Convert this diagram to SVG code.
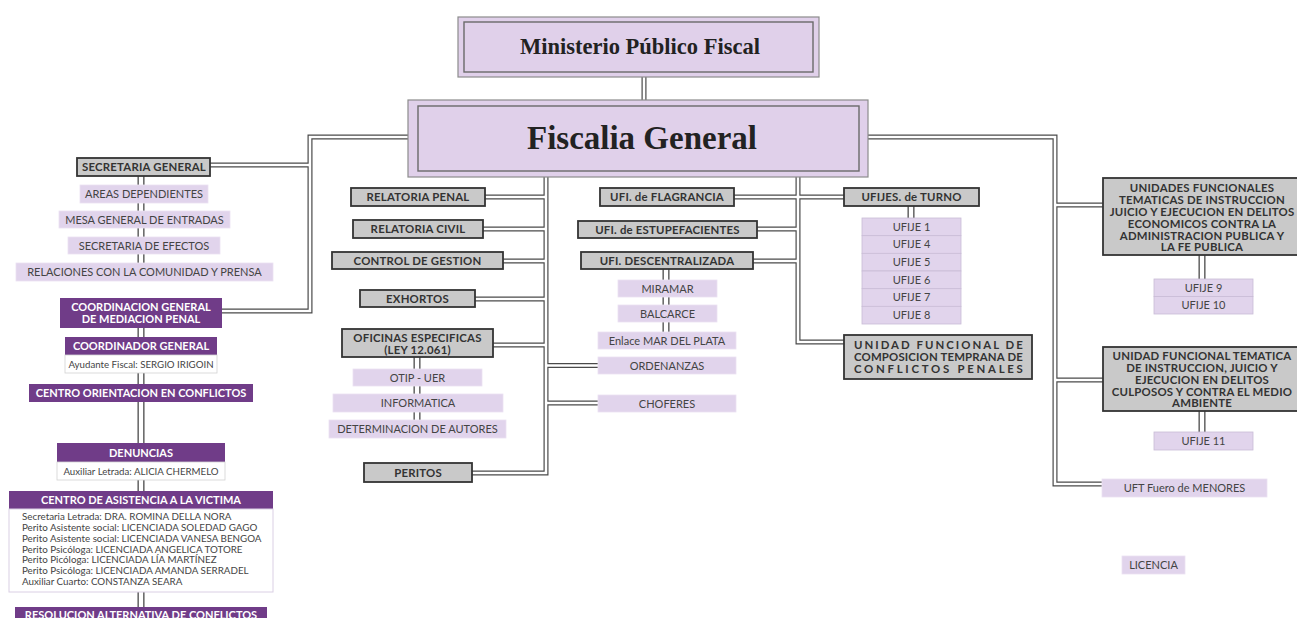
<svg xmlns="http://www.w3.org/2000/svg" xmlns:xlink="http://www.w3.org/1999/xlink" width="1297" height="618" viewBox="0 0 1297 618">
<style>
.cd{fill:none;stroke:#4a4a4a;stroke-width:5}
.cw{fill:none;stroke:#fff;stroke-width:2.6}
.sd{fill:none;stroke:#4a4a4a;stroke-width:7}
.sw{fill:none;stroke:#fff;stroke-width:4.4}
.gb{fill:#c9c9c9;stroke:#333;stroke-width:1.8}
.lv{fill:#e1d4ec;stroke:#ebe2f2;stroke-width:0.8}
.lc{fill:#e1d4ec;stroke:#c9bcd6;stroke-width:0.8}
.pu{fill:#703c88}
.wb{fill:#fff;stroke:#d2d2d2;stroke-width:0.8}
.wp{fill:#fff;stroke:#dacfe4;stroke-width:1}
.ob{fill:#e0d0ea;stroke:#8c8c8c;stroke-width:1.2}
.ib{fill:none;stroke:#6a6a6a;stroke-width:1.4}
text{font-family:Lato,"Open Sans","Liberation Sans",sans-serif;text-anchor:middle}
.tb{font-weight:bold;fill:#333;font-size:11.4px;letter-spacing:0.2px}
.tl{fill:#444;font-size:11px}
.tw{fill:#fff;font-weight:bold;font-size:11px}
.ts{fill:#444;font-size:9.7px}
.td{fill:#444;font-size:9.8px;text-anchor:start}
.tr{font-family:"Liberation Serif","Times New Roman",serif;font-weight:bold;fill:#222}
</style>
<defs>
<path id="p1" d="M644,77 V100"/>
<path id="p2" d="M408,137 H310 V311 H222"/>
<path id="p3" d="M210,165 H310"/>
<path id="p4" d="M472,473 H546 V177"/>
<path id="p5" d="M485,197 H546"/>
<path id="p6" d="M483,229 H546"/>
<path id="p7" d="M503,261 H546"/>
<path id="p8" d="M475,299 H546"/>
<path id="p9" d="M493,345 H546"/>
<path id="p10" d="M546,365.5 H598"/>
<path id="p11" d="M546,403 H598"/>
<path id="p12" d="M798,177 V342 H844"/>
<path id="p13" d="M734,197 H844"/>
<path id="p14" d="M757,229 H798"/>
<path id="p15" d="M753,261 H798"/>
<path id="p16" d="M868,137 H1055 V484 H1102"/>
<path id="p17" d="M1055,205 H1103"/>
<path id="p18" d="M1055,380 H1103"/>
<path id="s1" d="M141,176 V263"/>
<path id="s2" d="M141,328 V618"/>
<path id="s3" d="M417,357 V420"/>
<path id="s4" d="M666,269 V332"/>
<path id="s5" d="M911,206 V218"/>
<path id="s6" d="M1202,255 V279"/>
<path id="s7" d="M1202,411 V432"/>
</defs>
<rect width="1297" height="618" fill="#fff"/>
<g id="connectors">
<g class="cd"><use xlink:href="#p1"/><use xlink:href="#p2"/><use xlink:href="#p3"/><use xlink:href="#p4"/><use xlink:href="#p5"/><use xlink:href="#p6"/><use xlink:href="#p7"/><use xlink:href="#p8"/><use xlink:href="#p9"/><use xlink:href="#p10"/><use xlink:href="#p11"/><use xlink:href="#p12"/><use xlink:href="#p13"/><use xlink:href="#p14"/><use xlink:href="#p15"/><use xlink:href="#p16"/><use xlink:href="#p17"/><use xlink:href="#p18"/></g>
<g class="sd"><use xlink:href="#s1"/><use xlink:href="#s2"/><use xlink:href="#s3"/><use xlink:href="#s4"/><use xlink:href="#s5"/><use xlink:href="#s6"/><use xlink:href="#s7"/></g>
<g class="cw"><use xlink:href="#p1"/><use xlink:href="#p2"/><use xlink:href="#p3"/><use xlink:href="#p4"/><use xlink:href="#p5"/><use xlink:href="#p6"/><use xlink:href="#p7"/><use xlink:href="#p8"/><use xlink:href="#p9"/><use xlink:href="#p10"/><use xlink:href="#p11"/><use xlink:href="#p12"/><use xlink:href="#p13"/><use xlink:href="#p14"/><use xlink:href="#p15"/><use xlink:href="#p16"/><use xlink:href="#p17"/><use xlink:href="#p18"/></g>
<g class="sw"><use xlink:href="#s1"/><use xlink:href="#s2"/><use xlink:href="#s3"/><use xlink:href="#s4"/><use xlink:href="#s5"/><use xlink:href="#s6"/><use xlink:href="#s7"/></g>
</g>

<g id="ministerio"><rect class="ob" x="458" y="17" width="361" height="60"/><rect class="ib" x="464" y="22" width="349" height="50"/><text class="tr" x="640" y="54" font-size="22.5">Ministerio Público Fiscal</text></g>
<g id="fiscalia"><rect class="ob" x="408" y="100" width="460" height="77"/><rect class="ib" x="418" y="106" width="441" height="65"/><text class="tr" x="642" y="149" font-size="33">Fiscalia General</text></g>

<g id="secretaria-general"><rect class="gb" x="77" y="158" width="133" height="18"/><text class="tb" x="144" y="171">SECRETARIA GENERAL</text></g>
<g id="areas"><rect class="lv" x="80" y="185" width="128" height="18"/><text class="tl" x="144" y="198">AREAS DEPENDIENTES</text></g>
<g id="mesa"><rect class="lv" x="59" y="211" width="171" height="17"/><text class="tl" x="144.5" y="223.5">MESA GENERAL DE ENTRADAS</text></g>
<g id="efectos"><rect class="lv" x="68" y="237" width="152" height="17"/><text class="tl" x="144" y="249.5">SECRETARIA DE EFECTOS</text></g>
<g id="relaciones"><rect class="lv" x="16" y="263" width="257" height="18"/><text class="tl" x="144.5" y="276">RELACIONES CON LA COMUNIDAD Y PRENSA</text></g>
<g id="coordinacion"><rect class="pu" x="60" y="298" width="162" height="30"/><text class="tw" x="141" y="311" font-size="11.6">COORDINACION GENERAL</text><text class="tw" x="141" y="323" font-size="11.6">DE MEDIACION PENAL</text></g>
<g id="coordinador"><rect class="pu" x="65" y="337" width="152" height="18"/><text class="tw" x="141" y="350">COORDINADOR GENERAL</text><rect class="wb" x="65" y="355" width="152" height="18"/><text class="ts" x="141" y="367.5">Ayudante Fiscal: SERGIO IRIGOIN</text></g>
<g id="centro-orientacion"><rect class="pu" x="29" y="384" width="224" height="18"/><text class="tw" x="141" y="397" font-size="10.4">CENTRO ORIENTACION EN CONFLICTOS</text></g>
<g id="denuncias"><rect class="pu" x="57" y="443" width="168" height="19"/><text class="tw" x="141" y="456.5">DENUNCIAS</text><rect class="wb" x="57" y="462" width="168" height="18"/><text class="ts" x="141" y="474.5" font-size="10.2">Auxiliar Letrada: ALICIA CHERMELO</text></g>
<g id="centro-asistencia"><rect class="pu" x="9" y="491" width="264" height="18"/><text class="tw" x="141" y="504" font-size="11.4">CENTRO DE ASISTENCIA A LA VICTIMA</text><rect class="wp" x="9" y="509" width="264" height="83"/>
<text class="td" x="22" y="520">Secretaria Letrada: DRA. ROMINA DELLA NORA</text>
<text class="td" x="22" y="531">Perito Asistente social: LICENCIADA SOLEDAD GAGO</text>
<text class="td" x="22" y="541.7">Perito Asistente social: LICENCIADA VANESA BENGOA</text>
<text class="td" x="22" y="552.5">Perito Psicóloga: LICENCIADA ANGELICA TOTORE</text>
<text class="td" x="22" y="563">Perito Picóloga: LICENCIADA LÍA MARTÍNEZ</text>
<text class="td" x="22" y="574">Perito Psicóloga: LICENCIADA AMANDA SERRADEL</text>
<text class="td" x="22" y="585">Auxiliar Cuarto: CONSTANZA SEARA</text></g>
<g id="resolucion"><rect class="pu" x="15" y="607" width="252" height="18"/><text class="tw" x="141" y="618.5" font-size="11.3">RESOLUCION ALTERNATIVA DE CONFLICTOS</text></g>

<g id="relatoria-penal"><rect class="gb" x="351" y="188" width="134" height="18"/><text class="tb" x="418" y="201">RELATORIA PENAL</text></g>
<g id="relatoria-civil"><rect class="gb" x="353" y="220" width="130" height="18"/><text class="tb" x="418" y="233">RELATORIA CIVIL</text></g>
<g id="control-gestion"><rect class="gb" x="332" y="252" width="171" height="17"/><text class="tb" x="417.5" y="264.5">CONTROL DE GESTION</text></g>
<g id="exhortos"><rect class="gb" x="360" y="290" width="115" height="17"/><text class="tb" x="417.5" y="302.5">EXHORTOS</text></g>
<g id="oficinas"><rect class="gb" x="342" y="329" width="151" height="28"/><text class="tb" x="417.5" y="341.5">OFICINAS ESPECIFICAS</text><text class="tb" x="417.5" y="354">(LEY 12.061)</text></g>
<g id="otip"><rect class="lv" x="353" y="369" width="129" height="17"/><text class="tl" x="417.5" y="381.5">OTIP - UER</text></g>
<g id="informatica"><rect class="lv" x="333" y="394" width="170" height="18"/><text class="tl" x="418" y="407">INFORMATICA</text></g>
<g id="determinacion"><rect class="lv" x="329" y="420" width="177" height="18"/><text class="tl" x="417.5" y="433">DETERMINACION DE AUTORES</text></g>
<g id="peritos"><rect class="gb" x="364" y="463" width="108" height="19"/><text class="tb" x="418" y="476.5">PERITOS</text></g>

<g id="flagrancia"><rect class="gb" x="600" y="188" width="134" height="18"/><text class="tb" x="667" y="201">UFI. de FLAGRANCIA</text></g>
<g id="estupefacientes"><rect class="gb" x="578" y="221" width="179" height="17"/><text class="tb" x="667.5" y="233.5">UFI. de ESTUPEFACIENTES</text></g>
<g id="descentralizada"><rect class="gb" x="581" y="252" width="172" height="17"/><text class="tb" x="667" y="264.5">UFI. DESCENTRALIZADA</text></g>
<g id="miramar"><rect class="lv" x="618" y="280" width="99" height="17"/><text class="tl" x="667.5" y="292.5">MIRAMAR</text></g>
<g id="balcarce"><rect class="lv" x="618" y="305" width="99" height="17"/><text class="tl" x="667.5" y="317.5">BALCARCE</text></g>
<g id="enlace"><rect class="lv" x="598" y="332" width="138" height="17"/><text class="tl" x="667" y="344.5">Enlace MAR DEL PLATA</text></g>
<g id="ordenanzas"><rect class="lv" x="598" y="357" width="138" height="17"/><text class="tl" x="667" y="369.5">ORDENANZAS</text></g>
<g id="choferes"><rect class="lv" x="598" y="395" width="138" height="17"/><text class="tl" x="667" y="407.5">CHOFERES</text></g>

<g id="ufijes-turno"><rect class="gb" x="844" y="188" width="135" height="18"/><text class="tb" x="911.5" y="201">UFIJES. de TURNO</text></g>
<g id="ufije-list">
<rect class="lc" x="862" y="218" width="99" height="17.7"/><text class="tl" x="911.5" y="230.6">UFIJE 1</text>
<rect class="lc" x="862" y="235.7" width="99" height="17.7"/><text class="tl" x="911.5" y="248.3">UFIJE 4</text>
<rect class="lc" x="862" y="253.3" width="99" height="17.7"/><text class="tl" x="911.5" y="266">UFIJE 5</text>
<rect class="lc" x="862" y="271" width="99" height="17.7"/><text class="tl" x="911.5" y="283.6">UFIJE 6</text>
<rect class="lc" x="862" y="288.7" width="99" height="17.7"/><text class="tl" x="911.5" y="301.3">UFIJE 7</text>
<rect class="lc" x="862" y="306.3" width="99" height="17.7"/><text class="tl" x="911.5" y="319">UFIJE 8</text>
</g>
<g id="composicion-temprana"><rect class="gb" x="844" y="335" width="188" height="44"/>
<text class="tb" x="854" y="349" style="text-anchor:start" textLength="169" lengthAdjust="spacing">UNIDAD FUNCIONAL DE</text>
<text class="tb" x="854" y="361" style="text-anchor:start" textLength="169" lengthAdjust="spacing">COMPOSICION TEMPRANA DE</text>
<text class="tb" x="854" y="373" style="text-anchor:start" textLength="169" lengthAdjust="spacing">CONFLICTOS PENALES</text></g>

<g id="unidades-economicos"><rect class="gb" x="1103" y="178" width="198" height="77"/>
<text class="tb" x="1202" y="191.5">UNIDADES FUNCIONALES</text>
<text class="tb" x="1202" y="203.5">TEMATICAS DE INSTRUCCION</text>
<text class="tb" x="1202" y="215.5">JUICIO Y EJECUCION EN DELITOS</text>
<text class="tb" x="1202" y="227.5">ECONOMICOS CONTRA LA</text>
<text class="tb" x="1202" y="239.5">ADMINISTRACION PUBLICA Y</text>
<text class="tb" x="1202" y="251">LA FE PUBLICA</text></g>
<g id="ufije-9-10"><rect class="lc" x="1154" y="279" width="99" height="17.5"/><text class="tl" x="1203.5" y="291.5">UFIJE 9</text><rect class="lc" x="1154" y="296.5" width="99" height="17.5"/><text class="tl" x="1203.5" y="309">UFIJE 10</text></g>
<g id="unidad-culposos"><rect class="gb" x="1103" y="347" width="198" height="64"/>
<text class="tb" x="1202" y="359.5">UNIDAD FUNCIONAL TEMATICA</text>
<text class="tb" x="1202" y="371.5">DE INSTRUCCION, JUICIO Y</text>
<text class="tb" x="1202" y="383.5">EJECUCION EN DELITOS</text>
<text class="tb" x="1202" y="395.5">CULPOSOS Y CONTRA EL MEDIO</text>
<text class="tb" x="1202" y="407">AMBIENTE</text></g>
<g id="ufije-11"><rect class="lc" x="1154" y="432" width="99" height="18"/><text class="tl" x="1203.5" y="445">UFIJE 11</text></g>
<g id="menores"><rect class="lv" x="1102" y="479" width="165" height="18"/><text class="tl" x="1184.5" y="492">UFT Fuero de MENORES</text></g>
<g id="licencia"><rect class="lv" x="1122" y="556" width="63" height="18"/><text class="tl" x="1153.5" y="569">LICENCIA</text></g>
</svg>
